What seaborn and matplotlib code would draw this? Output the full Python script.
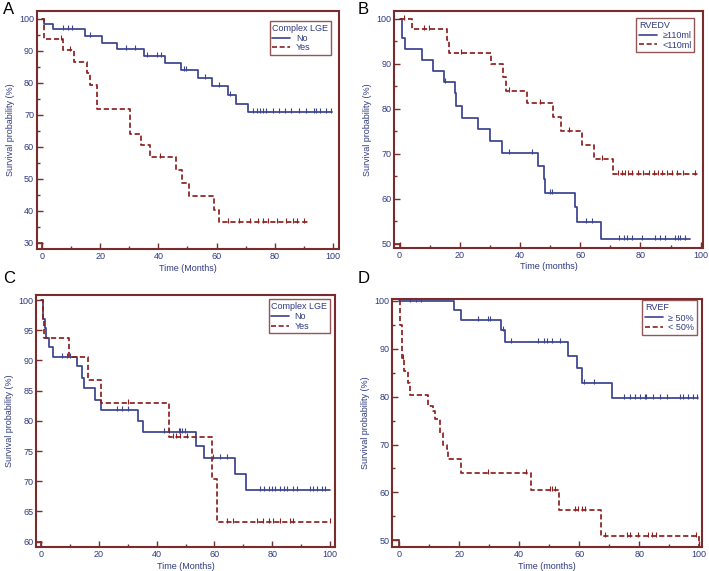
import numpy as np
import pandas as pd
import matplotlib
matplotlib.use("Agg")
import matplotlib.pyplot as plt
from matplotlib.lines import Line2D
from matplotlib.path import Path
import seaborn as sns

# ---------------- data ----------------
# Panel A : Complex LGE (whole cohort)
a_no_t = [0, 0.7, 3.9, 14.8, 20.5, 25.9, 35.0, 42.4, 47.7, 53.7, 58.4, 64.0, 66.8, 70.8]
a_no_s = [100, 98.4, 96.6, 94.7, 92.5, 90.4, 88.3, 86.1, 83.9, 81.6, 78.9, 76.1, 73.3, 70.8]
a_no_end = 99.7
a_no_cens = [7.3, 9.0, 10.2, 16.5, 29.0, 32.0, 36.2, 39.5, 40.8, 48.8, 49.5, 56.0, 61.0, 64.5,
             72.5, 74.0, 74.8, 76.0, 76.8, 79.4, 81.5, 83.4, 85.7, 88.3, 90.6, 93.3, 94.0,
             95.6, 97.4, 99.4]
a_yes_t = [0, 0.9, 7.3, 11.0, 15.6, 16.7, 18.8, 30.2, 34.2, 37.3, 46.0, 48.0, 50.6, 59.0, 60.8]
a_yes_s = [100, 93.5, 90.1, 86.5, 82.9, 79.3, 71.8, 64.0, 60.4, 56.7, 52.6, 48.7, 44.5, 40.4, 36.4]
a_yes_end = 91.4
a_yes_cens = [6.6, 9.8, 40.5, 64.0, 67.6, 71.4, 74.3, 76.0, 77.7, 80.6, 83.8, 86.3, 87.7, 90.0]

# Panel B : RVEDV
b_hi_t = [0, 0.8, 1.7, 7.4, 11.0, 14.6, 18.5, 18.8, 20.7, 26.0, 30.1, 34.1, 46.0, 47.9, 48.2,
          58.4, 59.0, 67.0]
b_hi_s = [100, 95.6, 93.3, 90.9, 88.3, 86.0, 83.4, 80.6, 77.9, 75.4, 72.9, 70.1, 67.3, 64.3,
          61.3, 58.2, 54.9, 51.0]
b_hi_end = 96.6
b_hi_cens = [15.2, 36.2, 44.0, 49.8, 50.5, 61.8, 64.0, 72.8, 74.4, 75.5, 77.2, 80.5, 85.0,
             86.6, 88.3, 91.6, 92.5, 93.3, 94.7]
b_lo_t = [0, 4.0, 15.7, 16.5, 30.2, 34.5, 35.3, 42.3, 50.8, 53.7, 60.6, 64.5, 70.9]
b_lo_s = [100, 97.6, 95.3, 92.4, 89.8, 87.0, 84.0, 81.2, 78.1, 75.1, 72.0, 68.8, 65.5]
b_lo_end = 99.6
b_lo_cens = [1.3, 8.0, 9.7, 20.4, 36.4, 46.8, 56.2, 67.2, 72.5, 74.0, 75.0, 76.0, 77.2, 79.2,
             81.0, 82.7, 84.5, 86.0, 87.2, 88.8, 90.5, 92.2, 94.0, 98.2]

# Panel C : Complex LGE (subgroup)
c_no_t = [0, 0.6, 1.2, 1.6, 2.9, 4.0, 12.3, 14.1, 15.0, 18.7, 20.8, 33.4, 35.2, 53.7, 56.4,
          67.2, 71.0]
c_no_s = [100, 96.9, 95.3, 93.7, 92.3, 90.6, 89.0, 87.1, 85.5, 83.4, 81.8, 80.0, 78.2, 75.8,
          73.8, 71.2, 68.5]
c_no_end = 100.0
c_no_cens = [7.1, 8.9, 10.0, 26.2, 28.0, 30.0, 42.4, 44.2, 47.6, 48.2, 48.8, 49.8, 59.6, 62.0,
             64.2, 75.8, 77.0, 78.7, 79.8, 81.0, 82.7, 83.9, 85.0, 87.3, 88.5, 93.1, 94.2,
             95.4, 97.1, 98.3]
c_yes_t = [0, 0.5, 1.0, 9.8, 16.1, 20.8, 44.1, 59.3, 61.0]
c_yes_s = [100, 96.9, 93.7, 90.6, 86.8, 82.9, 77.4, 70.3, 63.2]
c_yes_end = 100.0
c_yes_cens = [30.2, 45.8, 46.7, 48.1, 50.6, 64.2, 66.5, 74.6, 76.9, 78.7, 80.4, 82.5, 86.2,
              87.3, 99.8]

# Panel D : RVEF
d_hi_t = [0, 18.3, 20.6, 33.8, 35.2, 56.3, 59.1, 60.8, 70.8]
d_hi_s = [100, 98.0, 96.0, 93.9, 91.4, 88.5, 85.9, 82.9, 79.7]
d_hi_end = 99.7
d_hi_cens = [3.6, 5.6, 7.4, 26.3, 29.7, 30.3, 34.6, 37.2, 46.1, 48.1, 49.2, 50.9, 53.6, 61.7,
             64.9, 75.0, 76.9, 78.6, 80.2, 81.9, 82.4, 84.7, 86.9, 89.1, 93.6, 94.7, 96.3,
             98.0, 99.1]
d_lo_t = [0, 0.4, 1.0, 1.6, 2.8, 3.6, 9.7, 11.3, 11.9, 13.6, 14.7, 15.8, 16.3, 20.6, 43.9,
          53.2, 67.2, 100.0]
d_lo_s = [100, 95.0, 88.0, 85.4, 82.9, 80.4, 78.0, 77.1, 75.3, 72.5, 70.0, 69.0, 67.0, 64.1,
          60.6, 56.3, 50.8, 47.0]
d_lo_end = 100.0
d_lo_cens = [1.3, 29.7, 42.4, 50.2, 50.8, 51.9, 58.6, 59.5, 60.8, 61.9, 68.5, 75.8, 76.9,
             79.6, 83.0, 84.4, 85.6, 99.0]

BLUE = "#3b428f"
RED = "#8e1f1f"
FRAME = "#7a2b2b"
TXT = "#2f3a80"

sns.set_style("ticks")
plt.rcParams["font.family"] = ["Liberation Sans", "DejaVu Sans"]

# censor tick: short stroke sitting mostly above the curve
CENS_MARK = Path([(0, -0.3), (0, 1.0)], [Path.MOVETO, Path.LINETO])


def curve_frame(t, s, end, name):
    tt = list(t) + [end]
    ss = list(s) + [s[-1]]
    return pd.DataFrame({"time": tt, "surv": ss, "group": name})


def cens_frame(t, s, cens, name):
    idx = np.searchsorted(t, cens, side="right") - 1
    return pd.DataFrame({"time": cens, "surv": np.array(s)[idx], "group": name})


panels = [
    dict(letter="A", lpos=(0.004, 0.983), pos=[0.052, 0.564, 0.426, 0.417],
         ylim=(28.1, 102.4), xlim=(-1.7, 102),
         yticks=np.arange(30, 101, 10), yminor=np.arange(35, 100, 10), xlabel="Time (Months)",
         title="Complex LGE", names=["No", "Yes"],
         curves=[(a_no_t, a_no_s, a_no_end, a_no_cens), (a_yes_t, a_yes_s, a_yes_end, a_yes_cens)],
         leg=(0.974, 0.958)),
    dict(letter="B", lpos=(0.505, 0.983), pos=[0.556, 0.566, 0.436, 0.415],
         ylim=(49.1, 101.7), xlim=(-1.8, 100.9),
         yticks=np.arange(50, 101, 10), yminor=np.arange(55, 100, 10), xlabel="Time (months)",
         title="RVEDV", names=["\u2265110ml", "<110ml"],
         curves=[(b_hi_t, b_hi_s, b_hi_end, b_hi_cens), (b_lo_t, b_lo_s, b_lo_end, b_lo_cens)],
         leg=(0.971, 0.97)),
    dict(letter="C", lpos=(0.004, 0.512), pos=[0.051, 0.042, 0.4215, 0.441],
         ylim=(59.1, 100.8), xlim=(-1.7, 101.7),
         yticks=np.arange(60, 101, 5), yminor=[], xlabel="Time (Months)",
         title="Complex LGE", names=["No", "Yes"],
         curves=[(c_no_t, c_no_s, c_no_end, c_no_cens), (c_yes_t, c_yes_s, c_yes_end, c_yes_cens)],
         leg=(0.983, 0.984)),
    dict(letter="D", lpos=(0.505, 0.512), pos=[0.553, 0.042, 0.437, 0.434],
         ylim=(48.6, 100.35), xlim=(-2.4, 100.9),
         yticks=np.arange(50, 101, 10), yminor=np.arange(55, 100, 10), xlabel="Time (months)",
         title="RVEF", names=["\u2265 50%", "< 50%"],
         curves=[(d_hi_t, d_hi_s, d_hi_end, d_hi_cens), (d_lo_t, d_lo_s, d_lo_end, d_lo_cens)],
         leg=(0.984, 0.995)),
]

fig = plt.figure(figsize=(7.09, 5.71), dpi=100)

for p in panels:
    ax = fig.add_axes(p["pos"])
    n1, n2 = p["names"]
    (t1, s1, e1, c1), (t2, s2, e2, c2) = p["curves"]
    df = pd.concat([curve_frame(t1, s1, e1, n1), curve_frame(t2, s2, e2, n2)], ignore_index=True)
    cf = pd.concat([cens_frame(t1, s1, c1, n1), cens_frame(t2, s2, c2, n2)], ignore_index=True)
    pal = {n1: BLUE, n2: RED}
    sns.lineplot(data=df, x="time", y="surv", hue="group", style="group", palette=pal,
                 dashes={n1: "", n2: (3, 1.6)}, drawstyle="steps-post", estimator=None,
                 sort=False, linewidth=1.25, legend=False, ax=ax)
    for name in (n1, n2):
        sub = cf[cf["group"] == name]
        sns.scatterplot(data=sub, x="time", y="surv", marker=CENS_MARK, s=40,
                        color=pal[name], edgecolor=pal[name], linewidth=0.8,
                        legend=False, ax=ax)

    ax.set_xlim(*p["xlim"])
    ax.set_ylim(*p["ylim"])
    ax.set_xticks(np.arange(0, 101, 20))
    ax.set_xticks(np.arange(10, 100, 20), minor=True)
    ax.set_yticks(p["yticks"])
    if len(p["yminor"]):
        ax.set_yticks(p["yminor"], minor=True)
    ax.tick_params(which="both", direction="in", color=FRAME, labelcolor=TXT, labelsize=6.5,
                   pad=2)
    ax.tick_params(which="major", length=4, width=1)
    ax.tick_params(which="minor", length=2.5, width=1)
    for sp in ax.spines.values():
        sp.set_color(FRAME)
        sp.set_linewidth(1.5)
    ax.set_xlabel(p["xlabel"], color=TXT, fontsize=6.5, labelpad=2)
    ax.set_ylabel("Survival probability (%)", color=TXT, fontsize=6.5, labelpad=3)

    # corner bracket at the axis origin
    y0 = p["yticks"][0]
    ax.plot([p["xlim"][0], 0], [y0, y0], color=FRAME, lw=1.2, clip_on=False)
    ax.plot([0, 0], [y0, p["ylim"][0]], color=FRAME, lw=1.2, clip_on=False)

    handles = [Line2D([], [], color=BLUE, lw=1.2),
               Line2D([], [], color=RED, lw=1.2, dashes=(3, 1.6))]
    leg = ax.legend(handles, [n1, n2], title=p["title"], loc="upper right",
                    bbox_to_anchor=p["leg"], fontsize=6.5, title_fontsize=6.5,
                    frameon=True, fancybox=False, edgecolor=FRAME, handlelength=2.0,
                    handletextpad=0.6, borderpad=0.3, labelspacing=0.05, borderaxespad=0)
    leg.get_frame().set_linewidth(1.0)
    leg._legend_box.align = "left"
    leg._legend_box.sep = 1
    for txt in leg.get_texts():
        txt.set_color(TXT)
    leg.get_title().set_color(TXT)

    fig.text(p["lpos"][0], p["lpos"][1], p["letter"], fontsize=12, color="black",
             va="center", ha="left")

fig.savefig("out.png", dpi=100)
